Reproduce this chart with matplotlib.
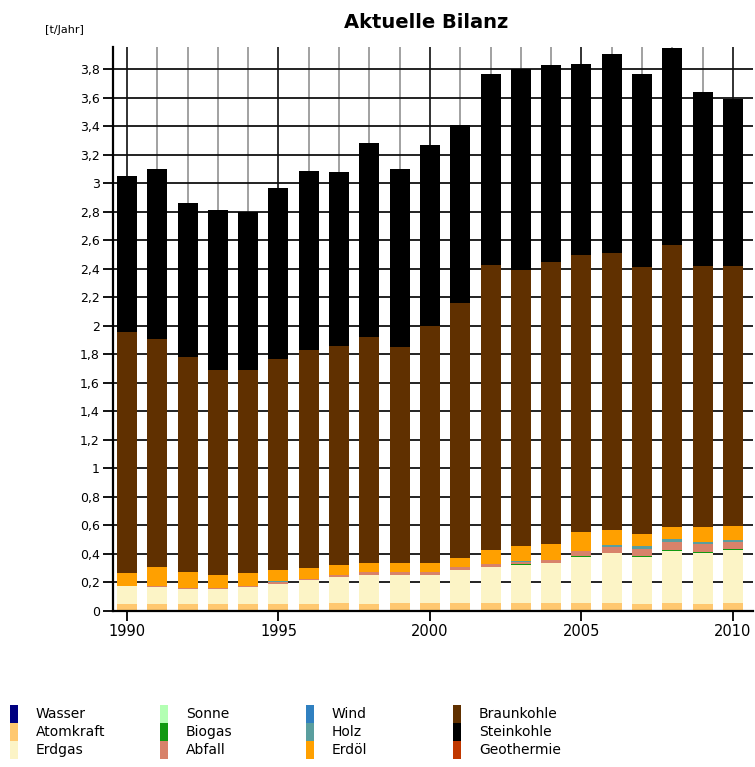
import matplotlib
matplotlib.use('Agg')
import matplotlib.pyplot as plt
from matplotlib.patches import Rectangle
from matplotlib.ticker import FixedLocator

# Jahre
jahre = list(range(1990, 2011))

# Anteile je Energieträger [t/Jahr], von unten nach oben gestapelt
wasser     = [0.0] * 21
atomkraft  = [0.047, 0.047, 0.047, 0.047, 0.047, 0.047, 0.047, 0.058, 0.050, 0.055, 0.058,
              0.058, 0.058, 0.058, 0.058, 0.058, 0.058, 0.047, 0.058, 0.047, 0.058]
erdgas     = [0.125, 0.121, 0.109, 0.107, 0.121, 0.143, 0.167, 0.184, 0.206, 0.201, 0.198,
              0.231, 0.254, 0.268, 0.280, 0.323, 0.347, 0.334, 0.365, 0.362, 0.370]
sonne      = [0.0] * 21
biogas     = [0, 0, 0, 0, 0, 0, 0, 0, 0, 0, 0,
              0, 0, 0.002, 0.002, 0.005, 0.002, 0.005, 0.003, 0.003, 0.005]
abfall     = [0.005, 0.005, 0.005, 0.005, 0.005, 0.012, 0.012, 0.012, 0.021, 0.017, 0.017,
              0.019, 0.018, 0.014, 0.015, 0.037, 0.040, 0.047, 0.058, 0.058, 0.051]
wind       = [0.0] * 21
holz       = [0, 0, 0, 0, 0, 0.008, 0, 0, 0, 0, 0,
              0, 0, 0.008, 0.004, 0, 0.014, 0.023, 0.019, 0.014, 0.014]
erdoel     = [0.089, 0.139, 0.116, 0.095, 0.093, 0.079, 0.074, 0.072, 0.059, 0.063, 0.063,
              0.065, 0.100, 0.107, 0.109, 0.133, 0.107, 0.084, 0.088, 0.103, 0.098]
braunkohle = [1.694, 1.598, 1.503, 1.436, 1.424, 1.481, 1.530, 1.534, 1.584, 1.514, 1.664,
              1.787, 2.000, 1.933, 1.982, 1.944, 1.942, 1.870, 1.979, 1.833, 1.824]
steinkohle = [1.09, 1.19, 1.08, 1.12, 1.11, 1.20, 1.26, 1.22, 1.36, 1.25, 1.27,
              1.25, 1.34, 1.41, 1.38, 1.34, 1.40, 1.36, 1.38, 1.22, 1.17]
geothermie = [0.0] * 21

namen = ['Wasser', 'Atomkraft', 'Erdgas', 'Sonne', 'Biogas', 'Abfall',
         'Wind', 'Holz', 'Erdöl', 'Braunkohle', 'Steinkohle', 'Geothermie']
reihen = [wasser, atomkraft, erdgas, sonne, biogas, abfall,
          wind, holz, erdoel, braunkohle, steinkohle, geothermie]
farben = ['#000080', '#FFC870', '#FCF4C6', '#B3FFB3', '#119911', '#D8826A',
          '#3080C0', '#5A9E9E', '#FFA000', '#603000', '#000000', '#C03800']

y_ticks = [i / 5 for i in range(20)]
y_labels = [f'{v:g}'.replace('.', ',') for v in y_ticks]
x_major = [1990, 1995, 2000, 2005, 2010]

W, H = 755, 767
fig = plt.figure(figsize=(W / 100, H / 100), dpi=100)
ax = fig.add_axes([113 / W, 156 / H, 640 / W, 564.3 / H])

unten = [0.0] * len(jahre)
for reihe, farbe in zip(reihen, farben):
    ax.bar(jahre, reihe, bottom=unten, width=0.66, color=farbe, linewidth=0, zorder=3)
    unten = [u + r for u, r in zip(unten, reihe)]

ax.set_xlim(1989.54, 2010.66)
ax.set_ylim(0, 3.959)

# Gitter
for j in jahre:
    if j in x_major:
        ax.axvline(j, color='#222222', lw=1.3, zorder=1)
    else:
        ax.axvline(j, color='#9a9a9a', lw=1.3, zorder=1)
for v in y_ticks[1:]:
    ax.axhline(v, color='#111111', lw=1.3, zorder=1)

ax.xaxis.set_major_locator(FixedLocator(x_major))
ax.set_xticklabels([str(j) for j in x_major], fontsize=10.5)
ax.yaxis.set_major_locator(FixedLocator(y_ticks))
ax.set_yticklabels(y_labels, fontsize=9)
ax.tick_params(axis='both', length=7.5, width=1.3, color='black', pad=2)

for s in ['top', 'right']:
    ax.spines[s].set_visible(False)
for s in ['left', 'bottom']:
    ax.spines[s].set_linewidth(1.6)
    ax.spines[s].set_zorder(4)

fig.text(426 / W, 1 - 22 / H, 'Aktuelle Bilanz', ha='center', va='center',
         fontsize=14, fontweight='bold')
fig.text(45 / W, 1 - 30 / H, '[t/Jahr]', ha='left', va='center', fontsize=8)

# Legende
spalten_x = [10, 160, 306, 453]
for i, (name, farbe) in enumerate(zip(namen, farben)):
    sp, zeile = i // 3, i % 3
    x0 = spalten_x[sp]
    yc = 714 + zeile * 18
    fig.add_artist(Rectangle((x0 / W, 1 - (yc + 9) / H), 8 / W, 18 / H,
                             transform=fig.transFigure, color=farbe, lw=0))
    fig.text((x0 + 26) / W, 1 - yc / H, name, ha='left', va='center', fontsize=10)

fig.savefig('out.png', dpi=100)
